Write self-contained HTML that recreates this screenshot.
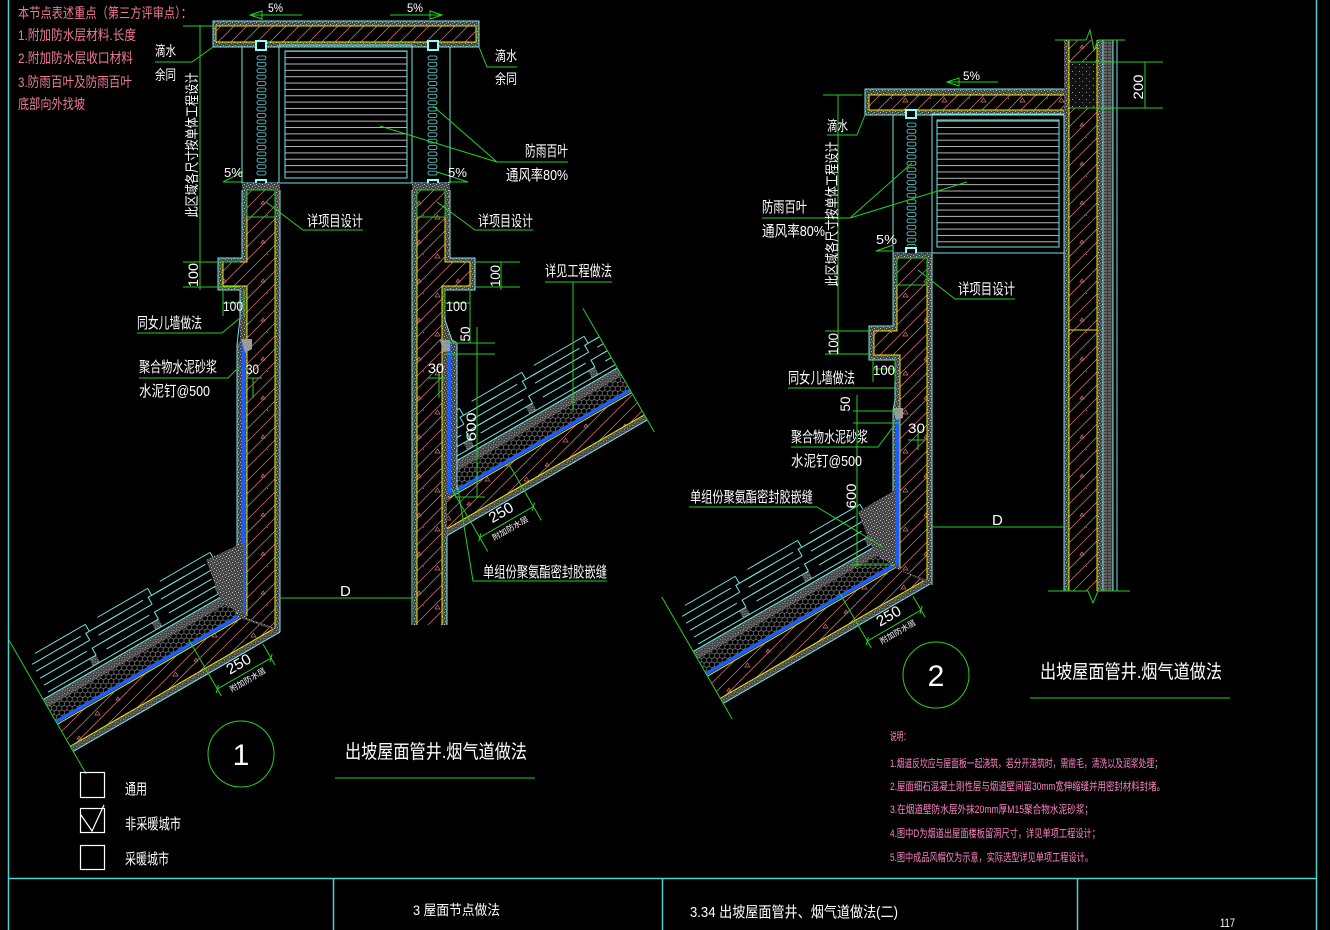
<!DOCTYPE html>
<html><head><meta charset="utf-8">
<style>
html,body{margin:0;padding:0;background:#000;overflow:hidden}
svg{display:block}
.t{fill:#fff;font-family:"Liberation Sans","Noto Sans CJK SC",sans-serif}
.p{fill:#f07a94;font-family:"Liberation Sans","Noto Sans CJK SC",sans-serif}
.n{fill:#ff84c4;font-family:"Liberation Sans","Noto Sans CJK SC",sans-serif}
.g{stroke:#22d022;stroke-width:1;fill:none}
.c{stroke:#6fe6e6;stroke-width:1;fill:none}
.y{stroke:#e6e600;stroke-width:1;fill:none}
.f{stroke:#4fd2d2;stroke-width:1.5;fill:none}
</style></head><body>
<svg width="1330" height="930" viewBox="0 0 1330 930" xmlns="http://www.w3.org/2000/svg">
<defs>
<pattern id="hat" width="39" height="39" patternUnits="userSpaceOnUse">
<rect width="39" height="39" fill="#000"/>
<path d="M0,13 L13,0 M0,26 L26,0 M0,39 L39,0 M13,39 L39,13 M26,39 L39,26" stroke="#c86a6a" stroke-width="0.8"/>
<path d="M6,24 l5,0 l-2.5,-4z M27,9 l4,0 l-2,-3z" fill="none" stroke="#d87474" stroke-width="0.7"/>
<rect x="20" y="31" width="1" height="1" fill="#c06060"/><rect x="33" y="20" width="1" height="1" fill="#c06060"/>
</pattern>
<pattern id="hatR" width="39" height="39" patternUnits="userSpaceOnUse" patternTransform="rotate(30)">
<rect width="39" height="39" fill="#000"/>
<path d="M0,13 L13,0 M0,26 L26,0 M0,39 L39,0 M13,39 L39,13 M26,39 L39,26" stroke="#c86a6a" stroke-width="0.8"/>
<path d="M6,24 l5,0 l-2.5,-4z M27,9 l4,0 l-2,-3z" fill="none" stroke="#d87474" stroke-width="0.7"/>
</pattern>
<pattern id="stp" width="6" height="6" patternUnits="userSpaceOnUse">
<rect width="6" height="6" fill="#454545"/>
<rect x="0" y="0" width="1" height="1" fill="#b8b8b8"/>
<rect x="3" y="1" width="1" height="1" fill="#9a9a9a"/>
<rect x="1" y="3" width="1" height="1" fill="#a8a8a8"/>
<rect x="4" y="4" width="1" height="1" fill="#c4c4c4"/>
<rect x="2" y="5" width="1" height="1" fill="#8a8a8a"/>
<rect x="5" y="2" width="1" height="1" fill="#7a7a7a"/>
</pattern>
<pattern id="stpS" width="7" height="7" patternUnits="userSpaceOnUse">
<rect width="7" height="7" fill="#111"/>
<rect x="1" y="1" width="1" height="1" fill="#9a9a9a"/>
<rect x="4" y="4" width="1" height="1" fill="#777"/>
</pattern>
<pattern id="hex" width="9" height="5.2" patternUnits="userSpaceOnUse">
<rect width="9" height="5.2" fill="#000"/>
<path d="M0,2.6 L1.5,0 L4.5,0 L6,2.6 L4.5,5.2 L1.5,5.2 Z M6,2.6 L9,2.6" fill="none" stroke="#8e8e8e" stroke-width="0.6"/>
</pattern>
<pattern id="ins" width="4" height="3" patternUnits="userSpaceOnUse">
<rect width="4" height="3" fill="#3a3a3a"/>
<path d="M0,1 H3" stroke="#a0a0a0" stroke-width="0.8"/>
</pattern>
<pattern id="slat" width="10" height="6.35" patternUnits="userSpaceOnUse">
<path d="M0,0.5 H10" stroke="#b4b4b4" stroke-width="1"/>
</pattern>
<pattern id="zz1" x="256" y="55" width="12" height="6.4" patternUnits="userSpaceOnUse">
<rect x="1" y="1" width="9" height="3.8" rx="1.8" fill="none" stroke="#6fe6e6" stroke-width="0.8"/>
</pattern>
<pattern id="zz2" x="427" y="55" width="12" height="6.4" patternUnits="userSpaceOnUse">
<rect x="1" y="1" width="9" height="3.8" rx="1.8" fill="none" stroke="#6fe6e6" stroke-width="0.8"/>
</pattern>
<pattern id="zz3" x="906" y="122" width="12" height="6.4" patternUnits="userSpaceOnUse">
<rect x="1" y="1" width="9" height="3.8" rx="1.8" fill="none" stroke="#6fe6e6" stroke-width="0.8"/>
</pattern>
<g id="tile">
<rect x="52" y="-38" width="8" height="8" fill="url(#stp)"/>
<path class="c" d="M0,-30H72 M0,-38H60 M60,-38V-46H100 M0,-46H54 M0,-54H62 M62,-54V-62H104 M0,-62H56 M8,-70H66 M66,-70V-62"/>
</g>
<clipPath id="cl1"><rect x="0" y="0" width="280" height="930"/><rect x="413" y="0" width="300" height="930"/></clipPath>
<clipPath id="cl2"><rect x="600" y="0" width="332" height="930"/></clipPath>
<clipPath id="lc1"><rect x="-218" y="-120" width="663" height="240"/></clipPath>
<clipPath id="lc2"><rect x="-218" y="-120" width="300" height="240"/></clipPath>
</defs>
<rect width="1330" height="930" fill="#000"/>

<!-- ============ ROOF 1 ============ -->
<g clip-path="url(#cl1)">
<g transform="translate(245,613) rotate(-30)">
<g clip-path="url(#lc1)">
<rect x="-218" y="28" width="663" height="6" fill="url(#stp)"/>
<rect x="-218" y="2" width="663" height="26" fill="url(#hatR)"/>
<rect x="-218" y="-17" width="663" height="15" fill="url(#hex)"/>
<rect x="-218" y="-26" width="663" height="9" fill="url(#stp)"/>
<rect x="-218" y="-2" width="663" height="3.6" fill="#1a5cff"/>
<path class="y" d="M-218,2.5H445 M-218,28H445"/>
<path class="c" d="M-218,34H445 M-218,-26H445"/>
<use href="#tile" x="-210"/><use href="#tile" x="-138"/><use href="#tile" x="-66"/>
<use href="#tile" x="222"/><use href="#tile" x="294"/><use href="#tile" x="366"/><use href="#tile" x="438"/>
</g>
</g>
</g>
<!-- ============ ROOF 2 ============ -->
<g clip-path="url(#cl2)">
<g transform="translate(895,565) rotate(-30)">
<g clip-path="url(#lc2)">
<rect x="-218" y="28" width="300" height="6" fill="url(#stp)"/>
<rect x="-218" y="2" width="300" height="26" fill="url(#hatR)"/>
<rect x="-218" y="-17" width="300" height="15" fill="url(#hex)"/>
<rect x="-218" y="-26" width="300" height="9" fill="url(#stp)"/>
<rect x="-218" y="-2" width="300" height="3.6" fill="#1a5cff"/>
<path class="y" d="M-218,2.5H82 M-218,28H82"/>
<path class="c" d="M-218,34H82 M-218,-26H82"/>
<use href="#tile" x="-210"/><use href="#tile" x="-138"/><use href="#tile" x="-66"/>
</g>
</g>
</g>

<!-- ============ DRAWING 1 STRUCTURE ============ -->
<rect x="213" y="21" width="266" height="26" fill="url(#stp)"/>
<rect x="216" y="26" width="260" height="16" fill="url(#hat)" stroke="#e6e600" stroke-width="1"/>
<rect x="213" y="21" width="266" height="26" class="c"/>
<path class="c" d="M242,47V183H450V47 M279,45V183 M412,45V183 M279,45H412"/>
<rect x="285" y="51" width="122" height="127" fill="url(#slat)" stroke="#6fe6e6" stroke-width="1"/>
<rect x="256" y="55" width="12" height="121" fill="url(#zz1)"/>
<rect x="427" y="55" width="12" height="121" fill="url(#zz2)"/>
<rect x="256" y="41" width="10" height="9" fill="#000" stroke="#8ff" stroke-width="2"/>
<rect x="428" y="41" width="10" height="9" fill="#000" stroke="#8ff" stroke-width="2"/>
<rect x="256" y="180" width="10" height="9" fill="#000" stroke="#8ff" stroke-width="2"/>
<rect x="428" y="180" width="10" height="9" fill="#000" stroke="#8ff" stroke-width="2"/>
<!-- left wall -->
<polygon points="242,183 280,183 280,632 237,617 237,345 240,340 240,290 218,290 218,258 242,258" fill="url(#stp)"/>
<polygon points="247,190 275,190 275,628 247,618 247,286 223,286 223,262 247,262" fill="url(#hat)"/>
<polyline class="y" points="275,628 275,190 247,190 247,262 223,262 223,286 247,286 247,616"/>
<polyline class="c" points="242,190 242,258 218,258 218,290 240,290 240,318 237,345 237,614"/>
<path class="c" d="M280,190V632"/>
<rect x="241.8" y="343" width="3.6" height="271" fill="#1a5cff"/>
<polygon points="241,339 252,339 252,349 245,353" fill="#9a9a9a"/>
<polygon points="243,543 206,560 222,603 243,615" fill="url(#stp)"/>
<rect x="247" y="190" width="28" height="27" class="g"/>
<!-- right wall -->
<polygon points="412,183 450,183 450,258 475,258 475,290 445,290 445,320 452,340 457,343 457,490 447,500 447,625 413,625" fill="url(#stp)"/>
<polygon points="417,190 445,190 445,262 470,262 470,286 442,286 442,625 417,625" fill="url(#hat)"/>
<polyline class="y" points="417,625 417,190 445,190 445,262 470,262 470,286 442,286 442,625"/>
<path class="c" d="M412,190V625 M450,190V258H475V290H445V320L452,340L457,343V490 M447,536V625"/>
<rect x="447.5" y="343" width="3.6" height="150" fill="#1a5cff"/>
<polygon points="440,340 450,340 450,351 443,352" fill="#9a9a9a"/>
<rect x="417" y="190" width="28" height="27" class="g"/>

<!-- ============ DRAWING 2 STRUCTURE ============ -->
<rect x="865" y="89" width="203" height="26" fill="url(#stp)"/>
<rect x="869" y="95" width="199" height="15" fill="url(#hat)" stroke="#e6e600" stroke-width="1"/>
<rect x="865" y="89" width="203" height="26" class="c"/>
<path class="c" d="M893,115V253H1064 M932,114H1064V252 M932,114V253"/>
<rect x="937" y="120" width="122" height="127" fill="url(#slat)" stroke="#6fe6e6" stroke-width="1"/>
<rect x="906" y="122" width="12" height="124" fill="url(#zz3)"/>
<rect x="906" y="110" width="10" height="8" fill="#000" stroke="#8ff" stroke-width="2"/>
<rect x="906" y="248" width="10" height="9" fill="#000" stroke="#8ff" stroke-width="2"/>
<polygon points="893,253 932,253 932,585 893,567 893,410 895,400 895,360 869,360 869,326 893,326" fill="url(#stp)"/>
<polygon points="897,258 927,258 927,580 900,570 900,355 874,355 874,331 897,331" fill="url(#hat)"/>
<polyline class="y" points="927,580 927,258 897,258 897,331 874,331 874,355 900,355 900,568"/>
<path class="c" d="M893,253V326H869V360H895V400L893,410V566 M932,253V585"/>
<rect x="895.5" y="412" width="3.6" height="154" fill="#1a5cff"/>
<polygon points="893,408 903,408 903,418 896,420" fill="#9a9a9a"/>
<polygon points="895,490 858,512 875,555 895,566" fill="url(#stp)"/>
<rect x="897" y="258" width="30" height="27" class="g"/>
<!-- building wall -->
<rect x="1064" y="40" width="5" height="551" fill="url(#stp)"/>
<rect x="1069" y="40" width="28" height="551" fill="url(#hat)"/>
<rect x="1070" y="62" width="27" height="46" fill="url(#stpS)"/>
<rect x="1097" y="40" width="6" height="551" fill="url(#stp)"/>
<rect x="1103" y="40" width="10" height="551" fill="url(#ins)"/>
<path class="y" d="M1069,40V591 M1097,40V591 M1069,62H1097 M1069,108H1097 M1069,330H1097"/>
<path class="c" d="M1064,115V591 M1103,40V591 M1113,40V591 M1117,40V591"/>
<path class="g" d="M1055,40H1086L1090,30L1094,50L1098,40H1125 M1048,591H1088L1093,603L1098,591H1130"/>

<!-- ============ DIMENSIONS / LEADERS DRAWING 1 ============ -->
<path class="g" d="M250,15H302 M390,15H442"/>
<polygon class="g" points="250,15 262,11 262,19"/>
<polygon class="g" points="442,15 430,11 430,19"/>
<polyline class="g" points="243,172 223,182 243,182"/>
<polyline class="g" points="437,172 468,182 448,182"/>
<path class="g" d="M155,62H192L213,47 M479,47L487,67H517"/>
<path class="g" d="M266,202L303,230H363 M437,202L475,230H533"/>
<path class="g" d="M380,126L497,162 M433,106L497,162 M497,162H568"/>
<path class="g" d="M137,333H222L240,318 M139,378H228L240,366"/>
<path class="g" d="M545,282H612 M573,282V412"/>
<path class="g" d="M473,581H607 M473,581L457,483"/>
<path class="g" d="M280,598H413"/>
<path class="g" d="M200,25V290 M183,26H213 M183,262H240 M183,287H240"/>
<path class="g" d="M223,290V316 M244,290V316 M223,303H244 M445,290V316 M470,290V316 M445,303H470"/>
<path class="g" d="M501,262V290 M475,262H520 M475,287H520"/>
<path class="g" d="M477,327V497 M445,343H495 M445,354H495 M455,497H485 M470,290V343"/>
<path class="g" d="M247,378H262 M253,378V398 M428,378H445 M439,372V398"/>
<g transform="translate(245,613) rotate(-30)">
<path class="g" d="M-218,-95V60 M445,-95V48 M-62,52H0 M-62,-5V60 M0,36V60 M241,52H303 M241,-5V68 M303,2V68 M-65,55L-59,49 M-3,55L3,49 M238,55L244,49 M300,55L306,49"/>
<text class="t" x="-31" y="46" font-size="15" text-anchor="middle" textLength="26" lengthAdjust="spacingAndGlyphs">250</text>
<text class="t" x="-31" y="62" font-size="8" text-anchor="middle">附加防水层</text>
<text class="t" x="272" y="46" font-size="15" text-anchor="middle" textLength="26" lengthAdjust="spacingAndGlyphs">250</text>
<text class="t" x="272" y="62" font-size="8" text-anchor="middle">附加防水层</text>
</g>
<circle cx="241" cy="754" r="33" class="g"/>
<path class="g" d="M335,778H535"/>

<!-- ============ DIMENSIONS / LEADERS DRAWING 2 ============ -->
<path class="g" d="M947,82H998"/>
<polygon class="g" points="947,82 959,78 959,86"/>
<polyline class="g" points="893,245 876,251 893,251"/>
<path class="g" d="M865,115L857,135H827"/>
<path class="g" d="M762,218H850L912,163 M850,218L967,182"/>
<path class="g" d="M918,270L955,299H1015"/>
<path class="g" d="M838,95V354 M823,95H862 M825,331H870 M825,354H870"/>
<path class="g" d="M873,357V382 M895,357V382 M873,369H895"/>
<path class="g" d="M788,388H897"/>
<path class="g" d="M853,411H900 M853,423H900 M857,395V565 M850,565H895"/>
<path class="g" d="M791,447H878L893,427"/>
<path class="g" d="M689,507H817L883,547"/>
<path class="g" d="M932,527H1064"/>
<path class="g" d="M1070,62H1163 M1070,108H1163 M1145,62V108"/>
<path class="g" d="M908,440H925 M918,428V450"/>
<g transform="translate(895,565) rotate(-30)">
<path class="g" d="M-218,-89V52 M-62,52H0 M-62,-5V60 M0,36V60 M-65,55L-59,49 M-3,55L3,49"/>
<text class="t" x="-31" y="46" font-size="15" text-anchor="middle" textLength="26" lengthAdjust="spacingAndGlyphs">250</text>
<text class="t" x="-31" y="62" font-size="8" text-anchor="middle">附加防水层</text>
</g>
<circle cx="936" cy="675" r="33" class="g"/>
<path class="g" d="M1030,698H1230"/>

<!-- ============ FRAME ============ -->
<path class="f" d="M8.5,0V930 M1316.5,0V930 M8,878.5H1316 M333.5,878V930 M662.5,878V930 M1077.5,878V930"/>

<!-- ============ TEXT: top-left pink ============ -->
<text class="p" x="18" y="18" font-size="14" textLength="174" lengthAdjust="spacingAndGlyphs">本节点表述重点（第三方评审点）：</text>
<text class="p" x="18" y="40" font-size="14" textLength="118" lengthAdjust="spacingAndGlyphs">1.附加防水层材料.长度</text>
<text class="p" x="18" y="63" font-size="14" textLength="115" lengthAdjust="spacingAndGlyphs">2.附加防水层收口材料</text>
<text class="p" x="18" y="87" font-size="14" textLength="114" lengthAdjust="spacingAndGlyphs">3.防雨百叶及防雨百叶</text>
<text class="p" x="18" y="109" font-size="14" textLength="67" lengthAdjust="spacingAndGlyphs">底部向外找坡</text>

<!-- ============ TEXT: drawing 1 ============ -->
<text class="t" x="268" y="12" font-size="12" textLength="15" lengthAdjust="spacingAndGlyphs">5%</text>
<text class="t" x="407" y="12" font-size="12" textLength="16" lengthAdjust="spacingAndGlyphs">5%</text>
<text class="t" x="155" y="56" font-size="14" textLength="21" lengthAdjust="spacingAndGlyphs">滴水</text>
<text class="t" x="155" y="80" font-size="14" textLength="21" lengthAdjust="spacingAndGlyphs">余同</text>
<text class="t" x="495" y="61" font-size="14" textLength="22" lengthAdjust="spacingAndGlyphs">滴水</text>
<text class="t" x="495" y="84" font-size="14" textLength="22" lengthAdjust="spacingAndGlyphs">余同</text>
<text class="t" font-size="14" text-anchor="middle" textLength="145" lengthAdjust="spacingAndGlyphs" transform="translate(197,145) rotate(-90)">此区域各尺寸按单体工程设计</text>
<text class="t" x="224" y="177" font-size="13" textLength="19" lengthAdjust="spacingAndGlyphs">5%</text>
<text class="t" x="448" y="177" font-size="13" textLength="19" lengthAdjust="spacingAndGlyphs">5%</text>
<text class="t" x="307" y="226" font-size="15" textLength="56" lengthAdjust="spacingAndGlyphs">详项目设计</text>
<text class="t" x="478" y="226" font-size="15" textLength="55" lengthAdjust="spacingAndGlyphs">详项目设计</text>
<text class="t" x="525" y="156" font-size="15" textLength="43" lengthAdjust="spacingAndGlyphs">防雨百叶</text>
<text class="t" x="506" y="180" font-size="15" textLength="62" lengthAdjust="spacingAndGlyphs">通风率80%</text>
<text class="t" font-size="14" text-anchor="middle" textLength="24" lengthAdjust="spacingAndGlyphs" transform="translate(198,275) rotate(-90)">100</text>
<text class="t" font-size="14" text-anchor="middle" textLength="22" lengthAdjust="spacingAndGlyphs" transform="translate(500,276) rotate(-90)">100</text>
<text class="t" x="223" y="311" font-size="14" textLength="20" lengthAdjust="spacingAndGlyphs">100</text>
<text class="t" x="446" y="311" font-size="14" textLength="21" lengthAdjust="spacingAndGlyphs">100</text>
<text class="t" x="137" y="328" font-size="15" textLength="65" lengthAdjust="spacingAndGlyphs">同女儿墙做法</text>
<text class="t" x="139" y="372" font-size="15" textLength="78" lengthAdjust="spacingAndGlyphs">聚合物水泥砂浆</text>
<text class="t" x="139" y="396" font-size="15" textLength="71" lengthAdjust="spacingAndGlyphs">水泥钉@500</text>
<text class="t" x="246" y="374" font-size="14" textLength="13" lengthAdjust="spacingAndGlyphs">30</text>
<text class="t" x="545" y="276" font-size="15" textLength="67" lengthAdjust="spacingAndGlyphs">详见工程做法</text>
<text class="t" font-size="14" text-anchor="middle" textLength="15" lengthAdjust="spacingAndGlyphs" transform="translate(470,334) rotate(-90)">50</text>
<text class="t" font-size="14" text-anchor="middle" textLength="29" lengthAdjust="spacingAndGlyphs" transform="translate(476,427) rotate(-90)">600</text>
<text class="t" x="428" y="373" font-size="14" textLength="16" lengthAdjust="spacingAndGlyphs">30</text>
<text class="t" x="483" y="577" font-size="15" textLength="124" lengthAdjust="spacingAndGlyphs">单组份聚氨酯密封胶嵌缝</text>
<text class="t" x="340" y="596" font-size="15">D</text>
<text class="t" x="241" y="765" font-size="30" text-anchor="middle">1</text>
<text class="t" x="345" y="758" font-size="19" textLength="182" lengthAdjust="spacingAndGlyphs">出坡屋面管井.烟气道做法</text>
<rect x="80.5" y="772.5" width="24" height="25" fill="none" stroke="#fff" stroke-width="1.2"/>
<rect x="80.5" y="808.5" width="24" height="24" fill="none" stroke="#fff" stroke-width="1.2"/>
<rect x="80.5" y="845.5" width="24" height="24" fill="none" stroke="#fff" stroke-width="1.2"/>
<polyline points="81,815 92,831 104,805" fill="none" stroke="#fff" stroke-width="1.2"/>
<text class="t" x="125" y="794" font-size="15" textLength="22" lengthAdjust="spacingAndGlyphs">通用</text>
<text class="t" x="125" y="829" font-size="15" textLength="56" lengthAdjust="spacingAndGlyphs">非采暖城市</text>
<text class="t" x="125" y="864" font-size="15" textLength="44" lengthAdjust="spacingAndGlyphs">采暖城市</text>

<!-- ============ TEXT: drawing 2 ============ -->
<text class="t" x="963" y="80" font-size="12" textLength="17" lengthAdjust="spacingAndGlyphs">5%</text>
<text class="t" x="827" y="131" font-size="14" textLength="21" lengthAdjust="spacingAndGlyphs">滴水</text>
<text class="t" font-size="14" text-anchor="middle" textLength="145" lengthAdjust="spacingAndGlyphs" transform="translate(837,214) rotate(-90)">此区域各尺寸按单体工程设计</text>
<text class="t" x="762" y="212" font-size="15" textLength="45" lengthAdjust="spacingAndGlyphs">防雨百叶</text>
<text class="t" x="762" y="236" font-size="15" textLength="63" lengthAdjust="spacingAndGlyphs">通风率80%</text>
<text class="t" x="876" y="244" font-size="13" textLength="21" lengthAdjust="spacingAndGlyphs">5%</text>
<text class="t" x="958" y="294" font-size="15" textLength="57" lengthAdjust="spacingAndGlyphs">详项目设计</text>
<text class="t" font-size="14" text-anchor="middle" textLength="25" lengthAdjust="spacingAndGlyphs" transform="translate(1143,87) rotate(-90)">200</text>
<text class="t" font-size="14" text-anchor="middle" textLength="22" lengthAdjust="spacingAndGlyphs" transform="translate(838,344) rotate(-90)">100</text>
<text class="t" x="873" y="375" font-size="14" textLength="22" lengthAdjust="spacingAndGlyphs">100</text>
<text class="t" x="788" y="383" font-size="15" textLength="67" lengthAdjust="spacingAndGlyphs">同女儿墙做法</text>
<text class="t" font-size="14" text-anchor="middle" textLength="15" lengthAdjust="spacingAndGlyphs" transform="translate(850,404) rotate(-90)">50</text>
<text class="t" x="791" y="442" font-size="15" textLength="77" lengthAdjust="spacingAndGlyphs">聚合物水泥砂浆</text>
<text class="t" x="791" y="466" font-size="15" textLength="71" lengthAdjust="spacingAndGlyphs">水泥钉@500</text>
<text class="t" x="908" y="433" font-size="14" textLength="17" lengthAdjust="spacingAndGlyphs">30</text>
<text class="t" font-size="14" text-anchor="middle" textLength="25" lengthAdjust="spacingAndGlyphs" transform="translate(856,496) rotate(-90)">600</text>
<text class="t" x="690" y="502" font-size="15" textLength="123" lengthAdjust="spacingAndGlyphs">单组份聚氨酯密封胶嵌缝</text>
<text class="t" x="992" y="525" font-size="15">D</text>
<text class="t" x="936" y="686" font-size="30" text-anchor="middle">2</text>
<text class="t" x="1040" y="678" font-size="19" textLength="182" lengthAdjust="spacingAndGlyphs">出坡屋面管井.烟气道做法</text>

<!-- ============ NOTES ============ -->
<text class="n" x="890" y="740" font-size="11" textLength="20" lengthAdjust="spacingAndGlyphs">说明：</text>
<text class="n" x="890" y="767" font-size="11" textLength="272" lengthAdjust="spacingAndGlyphs">1.烟道反坎应与屋面板一起浇筑，若分开浇筑时，需凿毛，清洗以及润浆处理；</text>
<text class="n" x="890" y="790" font-size="11" textLength="275" lengthAdjust="spacingAndGlyphs">2.屋面细石混凝土刚性层与烟道壁间留30mm宽伸缩缝并用密封材料封堵。</text>
<text class="n" x="890" y="813" font-size="11" textLength="203" lengthAdjust="spacingAndGlyphs">3.在烟道壁防水层外抹20mm厚M15聚合物水泥砂浆；</text>
<text class="n" x="890" y="837" font-size="11" textLength="210" lengthAdjust="spacingAndGlyphs">4.图中D为烟道出屋面楼板留洞尺寸，详见单项工程设计；</text>
<text class="n" x="890" y="861" font-size="11" textLength="203" lengthAdjust="spacingAndGlyphs">5.图中成品风帽仅为示意，实际选型详见单项工程设计。</text>

<!-- ============ TITLE BLOCK ============ -->
<text class="t" x="413" y="915" font-size="14" textLength="87" lengthAdjust="spacingAndGlyphs">3  屋面节点做法</text>
<text class="t" x="690" y="917" font-size="15" textLength="208" lengthAdjust="spacingAndGlyphs">3.34  出坡屋面管井、烟气道做法(二)</text>
<text class="t" x="1220" y="927" font-size="12" textLength="15" lengthAdjust="spacingAndGlyphs">117</text>
</svg>
</body></html>
